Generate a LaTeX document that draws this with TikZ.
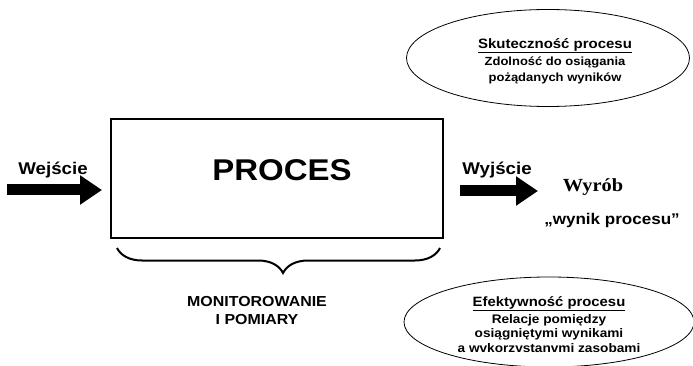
\documentclass[tikz,border=0pt]{standalone}
\usepackage{fontspec}
\setmainfont{Liberation Sans}[BoldFont={Liberation Sans Bold}]
\newfontfamily\sansbold{Liberation Sans Bold}
\newfontfamily\serifbold{Liberation Serif Bold}
\usetikzlibrary{arrows.meta,decorations.pathreplacing,shapes.geometric}

\newcommand{\fsz}[1]{\fontsize{#1}{#1}\selectfont}

\tikzset{
  bigarrow/.style={line width=11pt,
    -{Triangle[length=22pt,width=28pt]}},
  oval/.style={draw, ellipse, line width=0.8pt, inner sep=0pt},
  % lettering is set slightly wide
  caption/.style={align=center, inner sep=0pt, xscale=1.1, transform shape},
}

\begin{document}
\begin{tikzpicture}[x=1pt,y=-1pt]
  \useasboundingbox (0,0) rectangle (693,366);

  % the process box
  \node[draw, line width=2.6pt, minimum width=332pt, minimum height=119pt,
        inner sep=0pt] (box) at (277,178.5) {};
  \node[caption, font=\sansbold\fsz{30}] (proc) at (282,170) {PROCES};

  % input
  \node[caption, font=\sansbold\fsz{17}] (in) at (53,170) {Wejście};
  \coordinate (inA) at (7,190);
  \coordinate (inB) at (102,190);
  \draw[bigarrow] (inA) -- (inB);

  % output
  \node[caption, font=\sansbold\fsz{17}] (out) at (497,170) {Wyjście};
  \coordinate (outA) at (460,191);
  \coordinate (outB) at (538,191);
  \draw[bigarrow] (outA) -- (outB);

  \node[caption, font=\serifbold\fsz{18.5}] (prod) at (593,187) {Wyrób};
  \node[caption, font=\sansbold\fsz{15.5}] (res) at (612,220) {„wynik procesu”};

  % monitoring brace
  \coordinate (brL) at (117,248);
  \coordinate (brR) at (440,248);
  \draw[line width=2pt, decorate,
        decoration={brace, mirror, amplitude=25pt, aspect=0.514}]
        (brL) -- (brR);
  \node[caption, font=\sansbold\fsz{14.5}] (mon) at (257,311)
        {MONITOROWANIE\\[3.5pt]I POMIARY};

  % effectiveness
  \node[oval, minimum width=283pt, minimum height=97pt] (eff) at (548,58) {};
  \node[caption, font=\sansbold\fsz{11.8}, anchor=north] (effT) at (555,38)
        {{\fsz{13.6}\underline{Skuteczność procesu}}\\[3.2pt]
         Zdolność do osiągania\\[4pt]pożądanych wyników};

  % efficiency
  \node[oval, minimum width=290pt, minimum height=90pt] (efi) at (549,322) {};
  \node[caption, font=\sansbold\fsz{12.4}, anchor=north] (efiT) at (549,296)
        {{\fsz{13.5}\underline{Efektywność procesu}}\\[2.5pt]
         Relacje pomiędzy\\[2.2pt]
         osiągniętymi wynikami\\[2.2pt]
         a wvkorzvstanvmi zasobami};
\end{tikzpicture}
\end{document}
